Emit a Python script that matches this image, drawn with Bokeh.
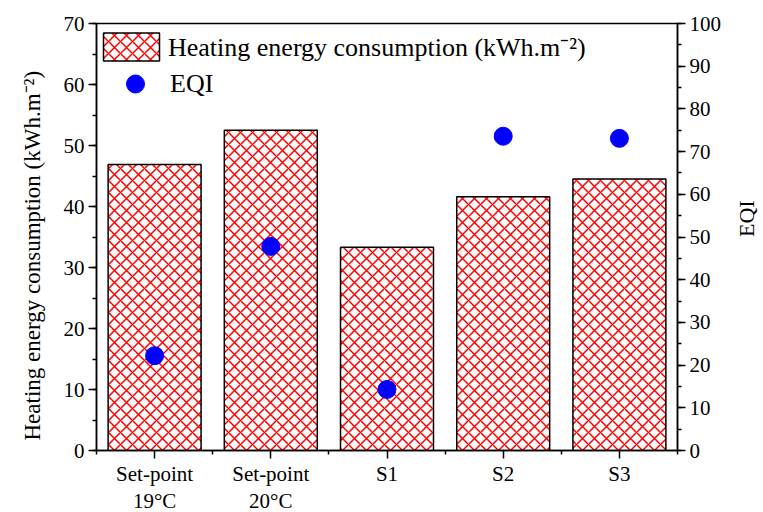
import math
from bokeh.plotting import figure
from bokeh.models import (Range1d, LinearAxis, FixedTicker, SingleIntervalTicker,
                          Legend, LegendItem, Title)
from bokeh.embed import file_html
from bokeh.resources import INLINE

categories = ["Set-point\n19°C", "Set-point\n20°C", "S1", "S2", "S3"]
heating = [46.9, 52.5, 33.3, 41.6, 44.5]
eqi = [22.2, 47.8, 14.3, 73.6, 73.1]
left_label = "Heating energy consumption (kWh.m⁻²)"
right_label = "EQI"

xs = list(range(1, len(categories) + 1))
FONT = "Liberation Serif"

p = figure(frame_width=581, frame_height=427, output_backend="svg",
           toolbar_location=None,
           x_range=Range1d(0.5, len(categories) + 0.5), y_range=Range1d(0, 70),
           min_border_left=96, min_border_right=86, min_border_top=23,
           min_border_bottom=62)
p.extra_y_ranges = {"eqi": Range1d(0, 100)}
p.grid.visible = False
p.outline_line_color = "black"
p.outline_line_width = 1.5
p.background_fill_color = "white"
p.border_fill_color = "white"

bars = p.vbar(x=xs, top=heating, width=0.8, fill_color="white",
              line_color="black", line_width=1.5,
              hatch_pattern="diagonal_cross", hatch_color="red",
              hatch_scale=12, hatch_weight=1.5)
pts = p.scatter(x=xs, y=eqi, y_range_name="eqi", size=18,
                fill_color="blue", line_color="blue")

def style(ax):
    ax.axis_line_width = 1.5
    ax.major_tick_line_width = 1.5
    ax.minor_tick_line_width = 1.5
    ax.major_tick_in = 0
    ax.major_tick_out = 8
    ax.minor_tick_in = 0
    ax.minor_tick_out = 4
    ax.major_label_text_font = FONT
    ax.major_label_text_font_size = "21px"
    ax.major_label_text_color = "black"
    ax.axis_label_text_font = FONT
    ax.axis_label_text_font_style = "normal"
    ax.axis_label_text_color = "black"

xax = p.xaxis[0]
xax.ticker = FixedTicker(ticks=xs, minor_ticks=[x - 0.5 for x in xs] + [xs[-1] + 0.5])
xax.major_label_overrides = {x: c for x, c in zip(xs, categories)}
style(xax)
xax.major_label_standoff = 3
xax.major_label_text_line_height = 1.15

yax = p.yaxis[0]
yax.ticker = SingleIntervalTicker(interval=10, num_minor_ticks=2)
style(yax)
yax.major_label_standoff = 4

rax = LinearAxis(y_range_name="eqi", axis_label=right_label,
                 ticker=SingleIntervalTicker(interval=10, num_minor_ticks=2))
style(rax)
rax.major_label_standoff = 4
rax.axis_label_text_font_size = "22px"
rax.axis_label_standoff = 22
rax.axis_label_orientation = math.pi / 2
p.add_layout(rax, "right")

left_title = Title(text=left_label, align="left", offset=10, standoff=32,
                   text_font=FONT, text_font_size="23px",
                   text_font_style="normal", text_color="black")
p.add_layout(left_title, "left")

legend1 = Legend(items=[LegendItem(label=left_label, renderers=[bars])],
                 location=(0, 386), border_line_color=None,
                 background_fill_alpha=0, margin=0, padding=0,
                 glyph_width=70, glyph_height=35, label_height=20,
                 label_standoff=2,
                 label_text_font=FONT, label_text_font_size="26px",
                 label_text_color="black")
legend2 = Legend(items=[LegendItem(label="EQI", renderers=[pts])],
                 location=(9, 344), border_line_color=None,
                 background_fill_alpha=0, margin=0, padding=0,
                 glyph_width=60, glyph_height=45, label_height=20,
                 label_standoff=5,
                 label_text_font=FONT, label_text_font_size="26px",
                 label_text_color="black")
p.add_layout(legend1)
p.add_layout(legend2)

open("out.html", "w").write(file_html(p, INLINE))
